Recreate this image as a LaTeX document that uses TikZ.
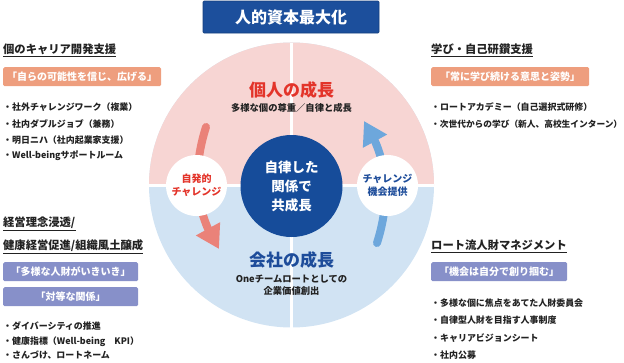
\documentclass[tikz,border=0pt]{standalone}
\usepackage{fontspec}
\setmainfont{Noto Sans CJK JP}
\usetikzlibrary{arrows.meta,bending}
\newcommand\myfs[1]{\fontsize{#1}{#1}\selectfont}
\definecolor{titleblue}{HTML}{1C4F9C}
\definecolor{pinkq}{HTML}{F7D5D3}
\definecolor{blueq}{HTML}{D1E3F3}
\definecolor{centerblue}{HTML}{164C9A}
\definecolor{redtext}{HTML}{E3342A}
\definecolor{bluetext}{HTML}{1D4C9A}
\definecolor{redarrow}{HTML}{EA8279}
\definecolor{bluearrow}{HTML}{6DA7DC}
\definecolor{boxorange}{HTML}{EE9E7E}
\definecolor{boxpurple}{HTML}{8790C9}
\definecolor{textdark}{HTML}{222222}
\tikzset{
  head/.style={anchor=west, inner sep=0pt, text=textdark, font=\bfseries\myfs{11.3}},
  item/.style={anchor=west, inner sep=0pt, text=textdark, font=\bfseries\myfs{8.95}},
  obox/.style={fill=boxorange, rounded corners=1.5pt, text=white, font=\bfseries\myfs{10}, minimum height=19pt, inner sep=0pt, anchor=north west},
  pbox/.style={obox, fill=boxpurple},
  uline/.style={draw=textdark, line width=0.8pt},
  bigarrow/.style={line width=8pt, line cap=round, -{Triangle[width=26pt,length=23pt]}},
}
\begin{document}
\begin{tikzpicture}[x=1pt,y=-1pt]
\useasboundingbox (0,0) rectangle (624,362);
% title
\node[fill=titleblue, draw=titleblue!80!black, line width=0.6pt, rounded corners=1pt, minimum width=176pt, minimum height=32pt, inner sep=0pt, text=white, font=\bfseries\myfs{16}] (title) at (291,17) {人的資本最大化};
% main circle
\coordinate (c) at (291.5,185);
\fill[blueq] (c) circle[radius=142.5pt];
\begin{scope}
  \clip (0,0) rectangle (624,185);
  \fill[pinkq] (c) circle[radius=142.5pt];
\end{scope}
\draw[white, line width=3pt] (291.5,42.5) -- (291.5,327.5);
\draw[white, line width=3pt] (149,185) -- (434,185);
% arrows
\coordinate (rtail) at (206,127);
\coordinate (rtip) at (219,249);
\coordinate (btail) at (377,243);
\coordinate (btip) at (364,121);
\draw[bigarrow, redarrow] (rtail) .. controls (194,165) and (192,208) .. (rtip);
\draw[bigarrow, bluearrow] (btail) .. controls (389,205) and (391,162) .. (btip);
% center circle
\node[circle, fill=centerblue, minimum size=102pt, inner sep=0pt, text=white, font=\bfseries\myfs{13.5}, align=center] (core) at (291.5,186) {自律した\\[5.5pt]関係で\\[5.5pt]共成長};
% small circles
\node[circle, fill=white, minimum size=61pt, inner sep=0pt, text=redtext, font=\bfseries\myfs{10}, align=center] (left) at (196.5,185.5) {自発的\\[3pt]チャレンジ};
\node[circle, fill=white, minimum size=61pt, inner sep=0pt, text=bluetext, font=\bfseries\myfs{10}, align=center] (right) at (387.5,185.5) {チャレンジ\\[3pt]機会提供};
% quadrant labels
\node[text=redtext, font=\bfseries\myfs{17}, inner sep=0pt] (ind) at (291.5,90) {個人の成長};
\node[text=textdark, font=\bfseries\myfs{9.3}, inner sep=0pt] (indsub) at (291.5,108) {多様な個の尊重／自律と成長};
\node[text=bluetext, font=\bfseries\myfs{17}, inner sep=0pt] (com) at (291.5,260) {会社の成長};
\node[text=textdark, font=\bfseries\myfs{9.3}, inner sep=0pt, align=center] (comsub) at (291.5,285) {Oneチームロートとしての\\[2.5pt]企業価値創出};
% left top
\node[head] (h1) at (3,49) {個のキャリア開発支援};
\draw[uline] ([yshift=-1.5pt]h1.south west) -- ([yshift=-1.5pt]h1.south east);
\node[obox, minimum width=158pt] (b1) at (3,67) {「自らの可能性を信じ、広げる」};
\node[item] (i11) at (3,107) {・社外チャレンジワーク（複業）};
\node[item] (i12) at (3,124) {・社内ダブルジョブ（兼務）};
\node[item] (i13) at (3,140) {・明日ニハ（社内起業家支援）};
\node[item] (i14) at (3,156) {・Well-beingサポートルーム};
% left bottom
\node[head] (h2) at (3,223) {経営理念浸透/};
\draw[uline] ([yshift=-1.5pt]h2.south west) -- ([yshift=-1.5pt]h2.south east);
\node[head] (h3) at (3,246) {健康経営促進/組織風土醸成};
\draw[uline] ([yshift=-1.5pt]h3.south west) -- ([yshift=-1.5pt]h3.south east);
\node[pbox, minimum width=135pt] (b2) at (3,262) {「多様な人財がいきいき」};
\node[pbox, minimum width=135pt] (b3) at (3,287) {「対等な関係」};
\node[item] (i21) at (3,326) {・ダイバーシティの推進};
\node[item] (i22) at (3,341.5) {・健康指標（Well-being　KPI）};
\node[item] (i23) at (3,355.5) {・さんづけ、ロートネーム};
% right top
\node[head] (h4) at (431,49) {学び・自己研鑽支援};
\draw[uline] ([yshift=-1.5pt]h4.south west) -- ([yshift=-1.5pt]h4.south east);
\node[obox, minimum width=158pt] (b4) at (431,67) {「常に学び続ける意思と姿勢」};
\node[item] (i31) at (431,107) {・ロートアカデミー（自己選択式研修）};
\node[item, font=\bfseries\myfs{8.7}] (i32) at (431,124) {・次世代からの学び（新人、高校生インターン）};
% right bottom
\node[head] (h5) at (431,245) {ロート流人財マネジメント};
\draw[uline] ([yshift=-1.5pt]h5.south west) -- ([yshift=-1.5pt]h5.south east);
\node[pbox, minimum width=136pt] (b5) at (431,262) {「機会は自分で創り掴む」};
\node[item] (i41) at (431,303) {・多様な個に焦点をあてた人財委員会};
\node[item] (i42) at (431,320) {・自律型人財を目指す人事制度};
\node[item] (i43) at (431,338) {・キャリアビジョンシート};
\node[item] (i44) at (431,355.5) {・社内公募};
\end{tikzpicture}
\end{document}
